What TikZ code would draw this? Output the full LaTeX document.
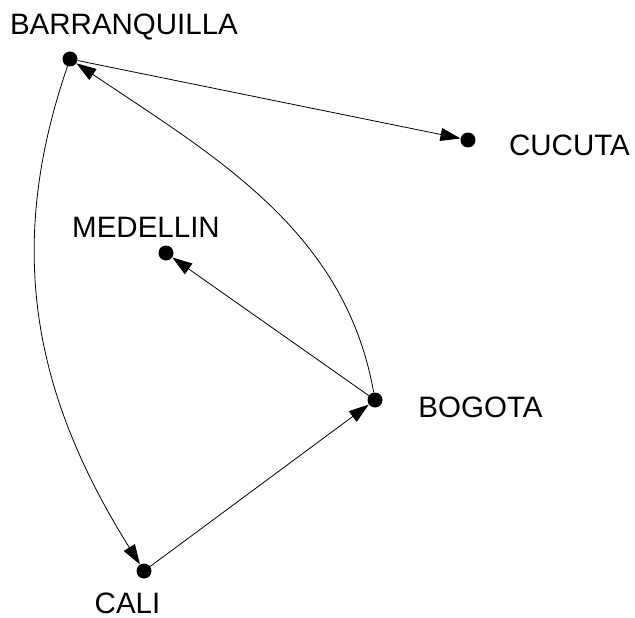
\documentclass[tikz,border=0pt]{standalone}
\usepackage{fontspec}
\setmainfont{Liberation Sans}
\usetikzlibrary{arrows.meta}
\begin{document}
\begin{tikzpicture}[x=1pt,y=-1pt,
  city/.style={circle,fill=black,inner sep=0pt,minimum size=15pt},
  lbl/.style={anchor=base,inner sep=0pt,font=\fontsize{29.5}{34}\selectfont},
  link/.style={line width=0.8pt,-{Triangle[length=20pt,width=13pt]}}]
\useasboundingbox (0,0) rectangle (635,618);
% cities
\node[city] (baq) at (70,59) {};
\node[city] (cuc) at (468,140) {};
\node[city] (med) at (166,253) {};
\node[city] (bog) at (375,400) {};
\node[city] (cal) at (144,571) {};
% names
\node[lbl] (tbaq) at (124,35) {BARRANQUILLA};
\node[lbl] (tcuc) at (569.5,155) {CUCUTA};
\node[lbl] (tmed) at (146,237) {MEDELLIN};
\node[lbl] (tbog) at (480.5,417) {BOGOTA};
\node[lbl] (tcal) at (127.5,613) {CALI};
% routes
\draw[link] (baq) -- (cuc);
\draw[link] (bog) -- (med);
\draw[link] (cal) -- (bog);
\draw[link] (bog) to[out=100,in=-34,looseness=0.95] (baq);
\draw[link] (baq) to[out=251,in=122] (cal);
\end{tikzpicture}
\end{document}
